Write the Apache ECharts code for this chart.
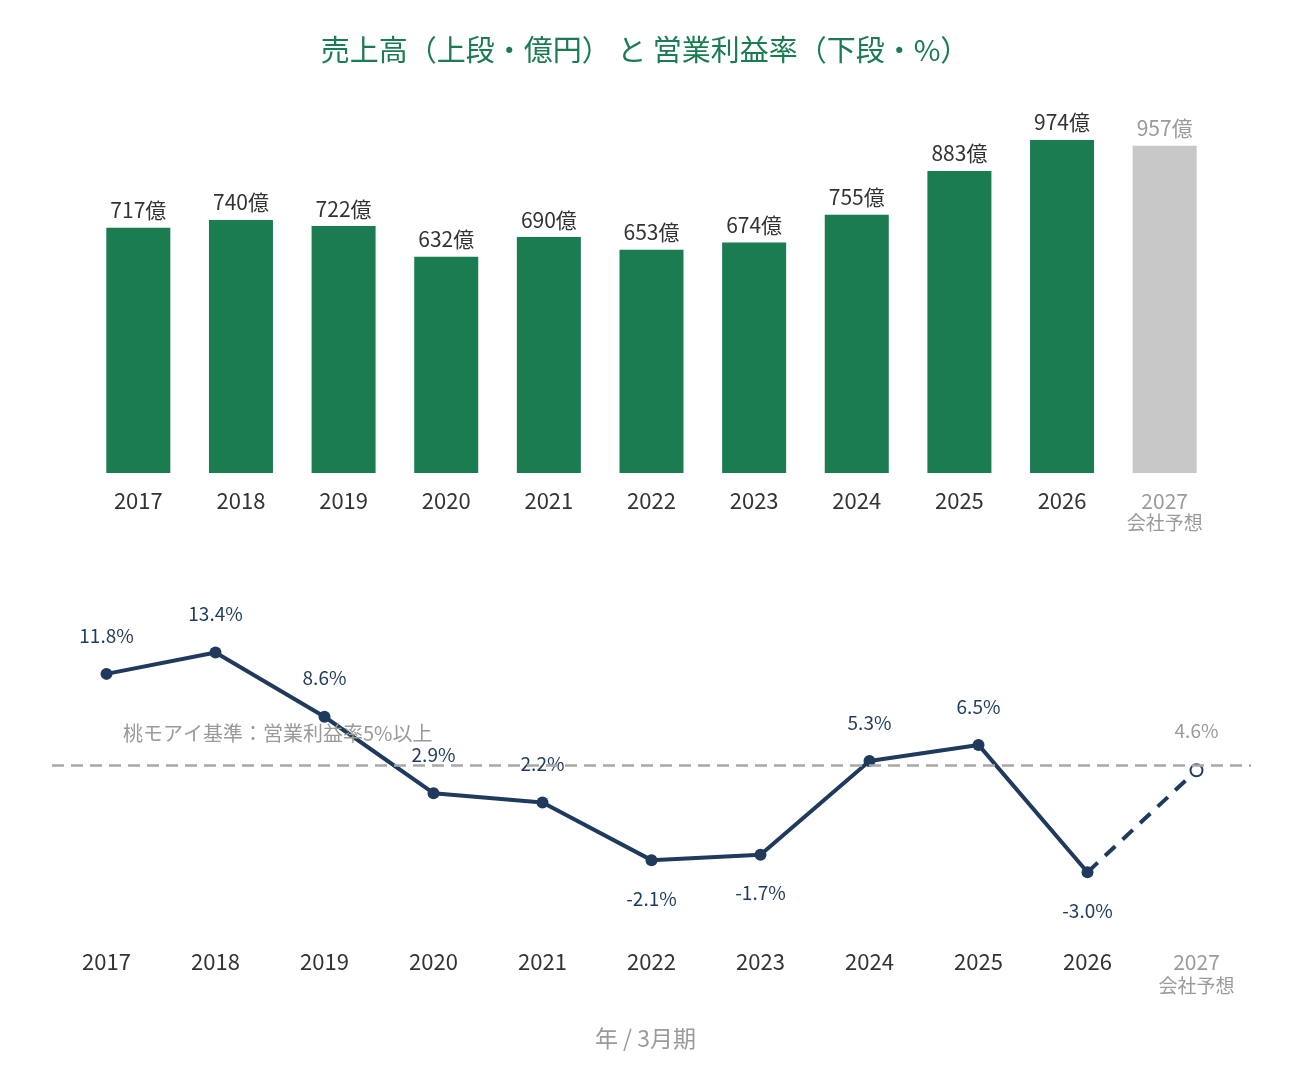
<!DOCTYPE html>
<html>
<head>
<meta charset="utf-8">
<script src="https://cdn.jsdelivr.net/npm/echarts@6/dist/echarts.min.js"></script>
<style>
  html, body { margin: 0; padding: 0; background: #fff; }
  #chart { width: 1290px; height: 1080px; }
</style>
</head>
<body>
<div id="chart"></div>
<script>
// data
const years = ['2017', '2018', '2019', '2020', '2021', '2022', '2023', '2024', '2025', '2026', '2027'];
const sales = [717, 740, 722, 632, 690, 653, 674, 755, 883, 974, 957];   // 億円
const margin = [11.8, 13.4, 8.6, 2.9, 2.2, -2.1, -1.7, 5.3, 6.5, -3.0, 4.6]; // %
const forecastYear = '2027';
const benchmark = 5;

const green = '#1b7b51';
const navy = '#1f3a5c';
const grey = '#9a9a9a';
const font = '"Noto Sans CJK JP", "Noto Sans", sans-serif';

const lastIdx = years.length - 1;

const barData = sales.map((v, i) => i === lastIdx
  ? { value: v, itemStyle: { color: '#c8c8c8' }, label: { color: grey } }
  : v);

// solid part: actual results, labels under the point when negative
const actualLine = margin.map((v, i) => {
  if (i === lastIdx) return '-';
  return v < 0 ? { value: v, label: { position: 'bottom' } } : v;
});
// dashed part: last actual -> forecast (2026 marker is drawn by the solid series)
const forecastLine = margin.map((v, i) => {
  if (i < lastIdx - 1) return '-';
  return i === lastIdx - 1 ? { value: v, symbol: 'none' } : v;
});

function yearLabel(v) {
  return v === forecastYear ? '{y|' + v + '}\n{f|会社予想}' : v;
}

const chart = echarts.init(document.getElementById('chart'), null, { renderer: 'canvas' });

const option = {
  backgroundColor: '#fff',
  textStyle: { fontFamily: font },
  animation: false,
  title: {
    text: '売上高（上段・億円） と 営業利益率（下段・%）',
    left: 'center',
    top: 30,
    textStyle: { color: green, fontSize: 29, fontWeight: 'normal', fontFamily: font }
  },
  grid: [
    { left: 87, right: 74, top: 131, height: 342 },
    { left: 52, right: 39, top: 631, height: 268 }
  ],
  xAxis: [
    {
      type: 'category', gridIndex: 0, data: years,
      axisLine: { show: false }, axisTick: { show: false },
      axisLabel: {
        interval: 0,
        color: '#333', fontSize: 22, margin: 17, lineHeight: 22,
        formatter: yearLabel,
        rich: {
          y: { color: grey, fontSize: 21, lineHeight: 22 },
          f: { color: grey, fontSize: 19, lineHeight: 22 }
        }
      }
    },
    {
      type: 'category', gridIndex: 1, data: years,
      axisLine: { show: false }, axisTick: { show: false },
      axisLabel: {
        interval: 0,
        color: '#333', fontSize: 22, margin: 51, lineHeight: 24,
        formatter: yearLabel,
        rich: {
          y: { color: grey, fontSize: 21, lineHeight: 24 },
          f: { color: grey, fontSize: 19, lineHeight: 24 }
        }
      },
      name: '年 / 3月期',
      nameLocation: 'middle',
      nameGap: 128,
      nameTextStyle: { color: grey, fontSize: 23, padding: [0, 12, 0, 0] }
    }
  ],
  yAxis: [
    { type: 'value', gridIndex: 0, min: 0, max: 1000, show: false },
    { type: 'value', gridIndex: 1, min: -5, max: 15, show: false }
  ],
  series: [
    {
      type: 'bar', xAxisIndex: 0, yAxisIndex: 0,
      data: barData,
      barWidth: 64,
      itemStyle: { color: green },
      label: {
        show: true, position: 'top', distance: 7,
        color: '#333', fontSize: 21,
        formatter: p => p.value + '億'
      }
    },
    {
      type: 'line', xAxisIndex: 1, yAxisIndex: 1,
      data: actualLine,
      symbol: 'circle', symbolSize: 12,
      lineStyle: { color: navy, width: 4 },
      itemStyle: { color: navy },
      label: {
        show: true, color: navy, fontSize: 19, distance: 23,
        formatter: p => p.value.toFixed(1) + '%',
        position: 'top'
      },
      markLine: {
        silent: true,
        symbol: 'none',
        data: [{ yAxis: benchmark }],
        lineStyle: { color: '#a8a8a8', type: [12, 7], width: 2.5 },
        label: {
          show: true,
          position: 'insideStartTop',
          formatter: '桃モアイ基準：営業利益率5%以上',
          color: grey, fontSize: 20,
          distance: 0,
          offset: [71, -22]
        }
      },
      z: 3
    },
    {
      type: 'line', xAxisIndex: 1, yAxisIndex: 1,
      data: forecastLine,
      symbol: 'circle', symbolSize: 12,
      lineStyle: { color: navy, width: 4, type: [14, 10] },
      itemStyle: { color: '#fff', borderColor: navy, borderWidth: 2 },
      label: {
        show: true, color: grey, fontSize: 19, distance: 23, position: 'top',
        formatter: p => p.dataIndex === lastIdx ? p.value.toFixed(1) + '%' : ''
      },
      z: 2
    }
  ]
};

chart.setOption(option);
window.addEventListener('resize', chart.resize);
</script>
</body>
</html>
